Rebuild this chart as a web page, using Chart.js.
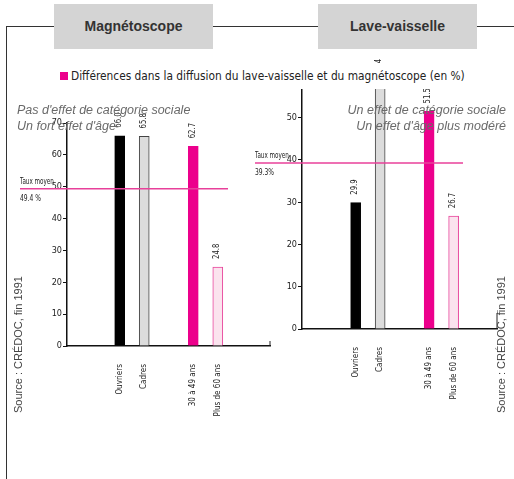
<!DOCTYPE html>
<html lang="fr">
<head>
<meta charset="utf-8">
<script src="https://cdn.jsdelivr.net/npm/chart.js@4.4.1/dist/chart.umd.min.js"></script>
<style>
  html, body { margin: 0; padding: 0; background: #fff; }
  #fig { position: relative; width: 514px; height: 479px; overflow: hidden;
         font-family: "Liberation Sans", Arial, sans-serif; color: #333; }
  #fig canvas { position: absolute; top: 0; }
  #left  { left: 0; }
  #right { left: 240px; }
  .frame-h { position: absolute; left: 7px; top: 26px; width: 507px; height: 0; border-top: 1.5px solid #333; }
  .frame-v { position: absolute; left: 6px; top: 26px; width: 0; height: 460px; border-left: 1.5px solid #333; }
  .tab { position: absolute; top: 4px; height: 45px; width: 159px; background: #d4d4d4;
         font-weight: bold; font-size: 14px; line-height: 45px; text-align: center; color: #333; }
  .legend { position: absolute; left: 55px; top: 64px; width: 420px; height: 25px; background: #fff;
            font-family: "DejaVu Sans Condensed", "Liberation Sans Narrow", sans-serif; font-size: 11.8px;
            line-height: 25px; color: #222; z-index: 2; white-space: nowrap; }
  .legend i { display: inline-block; width: 8px; height: 8px; background: #ec008c; margin: 0 3px 0 5px; }
  .note { position: absolute; font-style: italic; font-size: 12.5px; line-height: 16px; color: #6a6a6a; z-index: 3; white-space: nowrap; }
  .source { position: absolute; font-size: 11px; color: #444; white-space: nowrap;
            transform-origin: left top; transform: rotate(-90deg); z-index: 3; }
</style>
</head>
<body>
<div id="fig">
  <canvas id="left" width="300" height="479"></canvas>
  <canvas id="right" width="274" height="479"></canvas>
  <div class="frame-h"></div>
  <div class="frame-v"></div>
  <div class="tab" style="left:54px">Magnétoscope</div>
  <div class="tab" style="left:318px">Lave-vaisselle</div>
  <div class="legend"><i></i>Différences dans la diffusion du lave-vaisselle et du magnétoscope (en %)</div>
  <div class="note" style="left:17px; top:102px">Pas d'effet de catégorie sociale<br>Un fort effet d'âge</div>
  <div class="note" style="right:8px; top:102px; text-align:right">Un effet de catégorie sociale<br>Un effet d'âge plus modéré</div>
  <div class="source" style="left:12px; top:413px">Source : CRÉDOC, fin 1991</div>
  <div class="source" style="left:495px; top:413px">Source : CRÉDOC, fin 1991</div>
</div>
<script>
const socialCats = ["Ouvriers", "Cadres"]
const ageCats    = ["30 à 49 ans", "Plus de 60 ans"]

const magnetoSocial = [66.0, 65.8]
const magnetoAge    = [62.7, 24.8]
const magnetoAvg    = 49.4
const magnetoTicks  = [0, 10, 20, 30, 40, 50, 60, 70]

const laveSocial = [29.9, 58.4]
const laveAge    = [51.5, 26.7]
const laveAvg    = 39.3
const laveTicks  = [0, 10, 20, 30, 40, 50]

const narrow  = '"DejaVu Sans Condensed", "Liberation Sans Narrow", sans-serif'
const magenta = "#ec008c"

// one empty slot between the two groups of bars
const categories = [...socialCats, ...ageCats]
const slots = [...socialCats.map((_, i) => i), ...ageCats.map((_, i) => socialCats.length + 1 + i)]

const fills   = ["#000000", "#dcdcdc", magenta, "#fbe3ee"]
const borders = ["#000000", "#444444", magenta, "#e8479c"]

// squeeze text horizontally, the original uses a very narrow face
function narrowText(ctx, text, x, y, sx) {
  ctx.save()
  ctx.translate(x, y)
  ctx.scale(sx, 1)
  ctx.fillText(text, 0, 0)
  ctx.restore()
}

const valueLabels = {
  id: "valueLabels",
  afterDatasetsDraw(chart) {
    const ctx = chart.ctx
    const data = chart.data.datasets[0].data
    ctx.save()
    ctx.font = `9px ${narrow}`
    ctx.fillStyle = "#222"
    ctx.textAlign = "left"
    ctx.textBaseline = "middle"
    chart.getDatasetMeta(0).data.forEach((bar, i) => {
      ctx.save()
      ctx.translate(bar.x - 1, bar.y - 8)
      ctx.rotate(-Math.PI / 2)
      narrowText(ctx, data[i].y.toFixed(1), 0, 0, 0.85)
      ctx.restore()
    })
    ctx.restore()
  }
}

const avgLine = {
  id: "avgLine",
  afterDraw(chart, args, opts) {
    const ctx = chart.ctx
    const y = chart.scales.y.getPixelForValue(opts.value)
    ctx.save()
    ctx.strokeStyle = "#e8409a"
    ctx.lineWidth = 1.5
    ctx.beginPath()
    ctx.moveTo(opts.from, y)
    ctx.lineTo(opts.to, y)
    ctx.stroke()
    ctx.font = `9.5px ${narrow}`
    ctx.fillStyle = "#222"
    ctx.textBaseline = "alphabetic"
    narrowText(ctx, "Taux moyen", opts.from, y - 5, 0.66)
    narrowText(ctx, `${opts.value}${opts.suffix}`, opts.from, y + 12, 0.7)
    // small tick closing the base line
    const a = chart.chartArea
    ctx.strokeStyle = "#222"
    ctx.lineWidth = 1
    ctx.beginPath()
    ctx.moveTo(a.right, a.bottom)
    ctx.lineTo(a.right, a.bottom - opts.endTick)
    ctx.stroke()
    ctx.restore()
  }
}

function makeChart(id, social, age, avg, ticks, cfg) {
  const values = [...social, ...age]
  return new Chart(document.getElementById(id), {
    type: "bar",
    data: {
      datasets: [{
        data: values.map((v, i) => ({ x: slots[i], y: v })),
        backgroundColor: fills,
        borderColor: borders,
        borderWidth: 1,
        barThickness: 10
      }]
    },
    options: {
      responsive: false,
      animation: false,
      layout: { padding: cfg.padding },
      plugins: {
        legend: { display: false },
        tooltip: { enabled: false },
        avgLine: { value: avg, from: cfg.lineFrom, to: cfg.lineTo, suffix: cfg.suffix, endTick: cfg.endTick }
      },
      scales: {
        x: {
          type: "linear",
          offset: false,
          min: cfg.xMin,
          max: cfg.xMax,
          afterBuildTicks: s => { s.ticks = slots.map(v => ({ value: v })) },
          afterFit: s => { s.height = 110 },
          grid: { display: false, drawTicks: false },
          border: { color: "#111", width: 1.5 },
          ticks: {
            autoSkip: false,
            minRotation: 90,
            maxRotation: 90,
            padding: 18,
            color: "#222",
            font: { family: narrow, size: 8 },
            callback: v => categories[slots.indexOf(v)] ?? ""
          }
        },
        y: {
          min: 0,
          max: cfg.yMax,
          afterBuildTicks: s => { s.ticks = ticks.map(v => ({ value: v })) },
          afterFit: s => { s.width = 30 },
          grid: { drawOnChartArea: false, drawTicks: true, tickLength: 4, color: "#111", lineWidth: 1 },
          border: { color: "#111", width: 1.5 },
          ticks: { padding: 1, color: "#222", font: { family: narrow, size: 9 } }
        }
      }
    },
    plugins: [valueLabels, avgLine]
  })
}

makeChart("left", magnetoSocial, magnetoAge, magnetoAvg, magnetoTicks, {
  padding: { left: 37, right: 30, top: 123, bottom: 23 },
  xMin: -2.15, xMax: 6.13, yMax: 70,
  lineFrom: 20, lineTo: 228, suffix: " %", endTick: 5
})

makeChart("right", laveSocial, laveAge, laveAvg, laveTicks, {
  padding: { left: 32, right: 17, top: 89, bottom: 40 },
  xMin: -2.19, xMax: 5.77, yMax: 56.8,
  lineFrom: 15, lineTo: 223, suffix: "%", endTick: 16
})
</script>
</body>
</html>
